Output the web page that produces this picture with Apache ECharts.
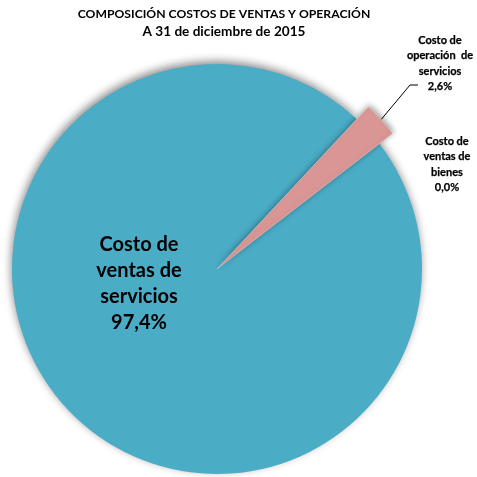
<!DOCTYPE html>
<html>
<head>
<meta charset="utf-8">
<script src="https://cdn.jsdelivr.net/npm/echarts@6/dist/echarts.min.js"></script>
<style>
  html, body { margin: 0; padding: 0; background: #fff; }
  #chart { width: 477px; height: 477px; }
</style>
</head>
<body>
<div id="chart"></div>
<script>
// Cost composition at year end
const titleLines = ['COMPOSICIÓN COSTOS DE VENTAS Y OPERACIÓN', 'A 31 de diciembre de 2015'];
const categories = [
  'Costo de\noperación  de\nservicios',
  'Costo de\nventas de\nbienes',
  'Costo de\nventas de\nservicios'
];
const values = [2.6, 0.0, 97.4];
const colors = ['#d99694', '#4bacc6', '#4bacc6'];

const FONT = 'Lato, "Open Sans", sans-serif';
const fmt = v => v.toFixed(1).replace('.', ',') + '%';

// label anchor points (centre of each text block)
const labelAnchor = {
  0: { x: 440, y: 63.5 },
  1: { x: 447, y: 164.5 },
  2: { x: 139, y: 284 }
};

const chart = echarts.init(document.getElementById('chart'), null, { renderer: 'canvas' });

const smallLabel = {
  show: true,
  position: 'outside',
  fontFamily: FONT,
  fontWeight: 'bold',
  fontSize: 11,
  lineHeight: 15.5,
  color: '#000',
  align: 'center',
  textBorderColor: '#000',
  textBorderWidth: 0.25,
  formatter: p => p.name + '\n' + fmt(p.value)
};
const bigLabel = {
  show: true,
  position: 'inside',
  fontFamily: FONT,
  fontWeight: 'bold',
  fontSize: 20,
  lineHeight: 26,
  color: '#000',
  align: 'center',
  formatter: p => p.name + '\n' + fmt(p.value)
};
const hidden = { color: 'transparent', shadowColor: 'transparent', borderWidth: 0 };

// base disc: the two service/goods cost slices
const baseData = categories.map((name, i) => {
  const item = { name, value: values[i] };
  if (i === 0) {
    item.itemStyle = hidden;
    item.label = { show: false };
    item.labelLine = { show: false };
  } else {
    item.itemStyle = { color: colors[i] };
    item.label = i === 1 ? smallLabel : bigLabel;
    item.labelLine = { show: false };
  }
  return item;
});

// operating cost slice, drawn slightly larger than the disc
const popData = categories.map((name, i) => {
  const item = { name, value: values[i] };
  if (i === 0) {
    item.itemStyle = { color: colors[0], borderColor: 'rgba(255,255,255,0.35)', borderWidth: 0.8 };
    item.label = smallLabel;
    item.labelLine = { show: true, lineStyle: { color: '#000', width: 1 } };
  } else {
    item.itemStyle = hidden;
    item.label = { show: false };
    item.labelLine = { show: false };
  }
  return item;
});

const placeLabel = params => {
  const a = labelAnchor[params.dataIndex];
  const out = { x: a.x, y: a.y, align: 'center', verticalAlign: 'middle' };
  if (params.seriesIndex === 1 && params.dataIndex === 0 && params.labelLinePoints) {
    const start = params.labelLinePoints[0];
    out.labelLinePoints = [start, [410, 85], [418, 85]];
  }
  return out;
};

const titleSizes = [12.2, 13.6];

chart.setOption({
  animation: false,
  backgroundColor: '#fff',
  graphic: titleLines.map((line, i) => ({
    type: 'text',
    x: 224,
    y: 14 + i * 18,
    silent: true,
    style: {
      text: line,
      fontFamily: FONT,
      fontWeight: 'bold',
      fontSize: titleSizes[i],
      fill: '#000',
      align: 'center',
      verticalAlign: 'middle'
    }
  })),
  series: [
    {
      type: 'pie',
      center: [217, 269],
      radius: 205,
      startAngle: 47,
      clockwise: true,
      silent: true,
      avoidLabelOverlap: false,
      itemStyle: {
        shadowBlur: 9,
        shadowColor: 'rgba(0,0,0,0.45)',
        shadowOffsetY: -3,
        shadowOffsetX: -1
      },
      labelLayout: placeLabel,
      data: baseData
    },
    {
      type: 'pie',
      center: [217, 269],
      radius: 222,
      startAngle: 47,
      clockwise: true,
      silent: true,
      avoidLabelOverlap: false,
      itemStyle: {
        shadowBlur: 6,
        shadowColor: 'rgba(0,0,0,0.4)',
        shadowOffsetY: -2,
        shadowOffsetX: 1
      },
      labelLayout: placeLabel,
      data: popData
    }
  ]
});
</script>
</body>
</html>
